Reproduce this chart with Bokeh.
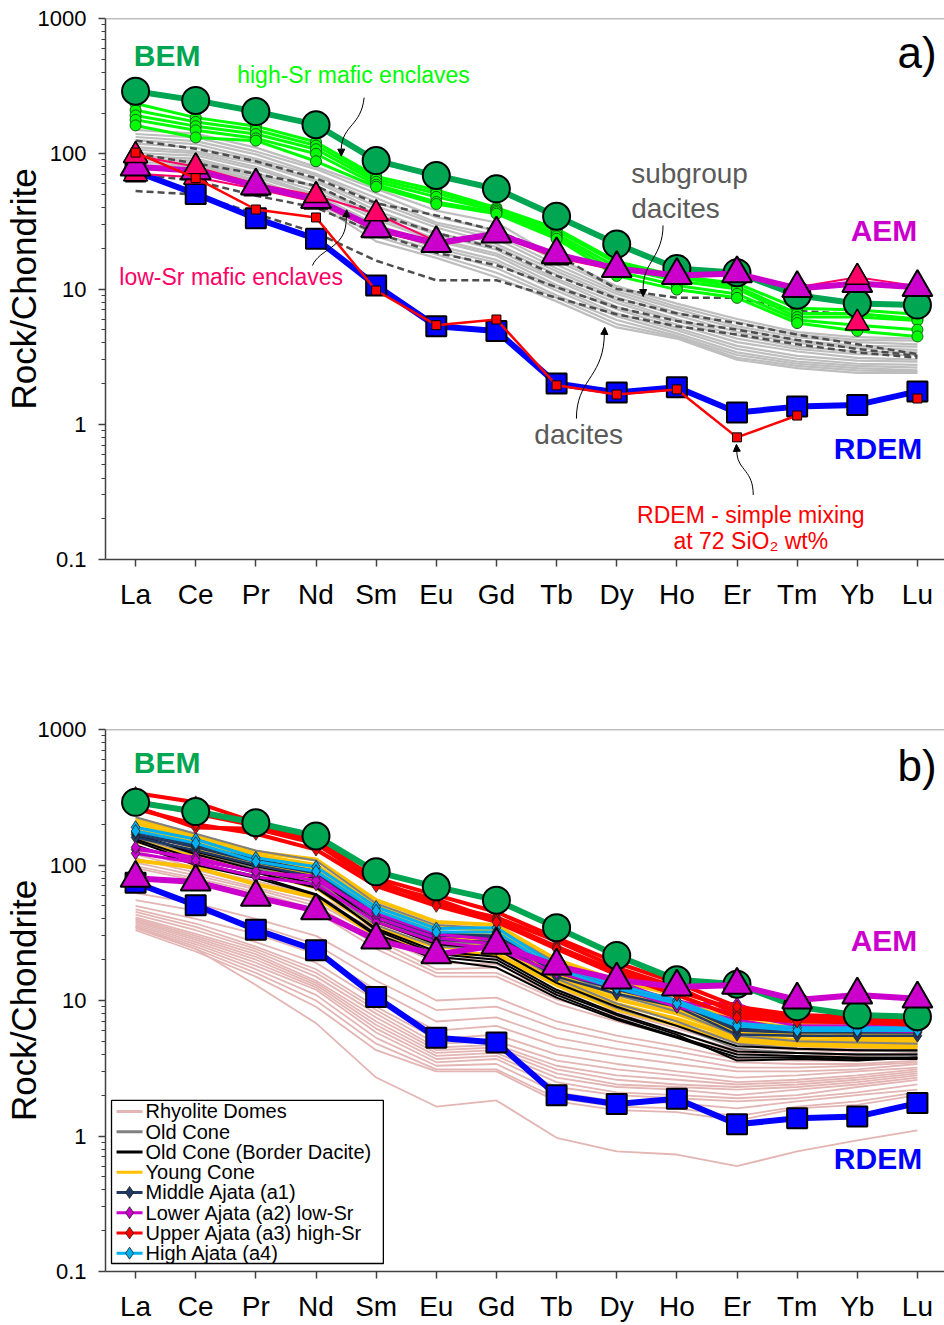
from bokeh.plotting import figure
from bokeh.layouts import column
from bokeh.models import Range1d, FixedTicker, CustomJSTickFormatter, Span, Arrow, NormalHead
from bokeh.core.properties import value
from bokeh.embed import file_html
from bokeh.resources import INLINE

FONT = "Liberation Sans"

# Rare earth elements, chondrite-normalised
ELEMENTS = ["La", "Ce", "Pr", "Nd", "Sm", "Eu", "Gd", "Tb", "Dy", "Ho", "Er", "Tm", "Yb", "Lu"]
X = list(range(len(ELEMENTS)))
Y_TICKS = [0.1, 1, 10, 100, 1000]
Y_MINOR = [k * 10.0 ** e for e in range(-1, 3) for k in range(2, 10)]

NAN = float("nan")

# End-members
BEM = [290, 248, 205, 164, 89, 69, 55, 34.5, 21.5, 14.2, 13.2, 9.0, 7.8, 7.6]
AEM = [80, 75, 58, 46, 28, 21.8, 25.6, 18, 14.2, 12.6, 13.0, 10.1, 11.0, 10.3]
RDEM = [74, 50.5, 33.3, 23.5, 10.6, 5.3, 4.9, 2.0, 1.72, 1.88, 1.22, 1.35, 1.39, 1.75]
RDEM_MIXING = [102, 66, 38.7, 33.8, 9.75, 5.4, 5.95, 1.94, 1.66, 1.81, 0.80, 1.16, NAN, 1.55]

# Mafic enclaves
HIGH_SR_1 = [235, 185, 160, 122, 68, 54, 40, 28, 16, 12.5, 11.0, 7.2, 7.0, 6.5]
HIGH_SR_2 = [210, 172, 150, 115, 65, 51, 39, 27, 15.5, 12.2, 10.4, 6.6, 6.6, 6.0]
HIGH_SR_3 = [192, 160, 140, 108, 62, 48, 38, 25.5, 14.5, 11.5, 10.0, 6.2, 6.2, 5.85]
HIGH_SR_4 = [178, 149, 130, 100, 59, 44, 37, 24.5, 13.5, 10.6, 9.2, 5.9, 5.4, 5.0]
HIGH_SR_5 = [162, 132, 125, 88, 57, 42.5, 36, 23.5, 12.5, 9.9, 8.6, 5.6, 4.9, 4.46]
LOW_SR_1 = [97, 80, 60, 49, 36, 22.5, 26, 18, 14.5, 12.8, 13.2, 10.3, 12.2, 10.5]
LOW_SR_2 = [71, 67, 55, 44, 27, 21, 25, 17, 13.8, 12.3, 12.8, 9.8, 5.6, 10.0]

# Dacites
DACITES = [
    [150, 141, 111, 80, 55, 38, 31, 17, 10.5, 7.8, 6.0, 4.8, 4.4, 4.3],
    [140, 132, 104, 77, 51, 34, 27, 16.2, 10.1, 7.4, 5.7, 4.6, 4.2, 4.15],
    [133, 124, 99, 71, 47, 31, 25, 15.1, 9.6, 7.1, 5.3, 4.4, 4.05, 3.9],
    [126, 118, 92, 69, 44, 30, 23.5, 14.2, 9.2, 6.7, 5.1, 4.15, 3.8, 3.75],
    [119, 111, 89, 64, 41, 28.5, 21.5, 13.5, 8.7, 6.4, 4.8, 4.0, 3.65, 3.55],
    [112, 104, 85, 62, 38, 26, 20.5, 12.8, 8.3, 6.0, 4.55, 3.75, 3.45, 3.4],
    [107, 101, 80, 57, 36, 25.2, 19.5, 11.9, 7.9, 5.8, 4.3, 3.6, 3.3, 3.25],
    [101, 97, 77, 56, 34, 23.5, 18.3, 11.5, 7.4, 5.45, 4.05, 3.45, 3.1, 3.0],
    [96, 92, 72, 53, 32.5, 22.7, 17.6, 10.7, 7.1, 5.15, 3.8, 3.2, 2.95, 2.9],
    [90, 89, 70, 50, 30, 21, 16.4, 10.2, 6.6, 4.95, 3.6, 3.05, 2.8, 2.75],
    [86, 86, 67, 49, 28.5, 20, 15.6, 9.7, 6.3, 4.7, 3.4, 2.9, 2.7, 2.62],
    [81, 84, 64, 46, 26, 19.2, 14.3, 9.0, 5.9, 4.5, 3.25, 2.8, 2.6, 2.5],
    [78, 83, 63, 44.5, 24.5, 18, 13.2, 8.6, 5.5, 4.4, 3.1, 2.7, 2.5, 2.45],
    [75, 82, 62, 43, 22.5, 17, 12.2, 8.1, 5.2, 4.3, 3.0, 2.6, 2.4, 2.4],
]
SUBGROUP_DACITES = [
    [125, 109, 88, 66, 43, 35, 27, 18, 10.0, 8.6, 8.6, 6.9, 6.5, 6.0],
    [100, 85, 71, 58, 36, 26, 20, 12.5, 8.5, 6.6, 5.6, 4.6, 3.9, 3.3],
    [71, 63, 49, 40, 26, 18.5, 15, 10.3, 7.3, 5.8, 5.0, 4.2, 3.6, 3.2],
    [53, 50, 36, 26, 16.2, 11.6, 11.6, 8.6, 6.5, 5.3, 4.6, 3.9, 3.4, 3.1],
]

# Volcanic units (panel b)
RHYOLITE_DOMES = [
    [128, 95, 76, 60, 36, 22, 22, 14, 10.5, 8.0, 5.7, 5.0, 4.8, 4.8],
    [120, 92, 72, 56, 33, 20, 20.5, 13, 9.5, 7.2, 5.2, 4.7, 4.6, 4.6],
    [112, 88, 68, 53, 30, 19, 18.5, 12, 9.0, 6.6, 4.9, 4.5, 4.4, 4.5],
    [104, 84, 66, 50, 28, 17, 17.5, 11, 8.3, 6.2, 4.6, 4.3, 4.2, 4.3],
    [98, 80, 63, 47, 26, 16, 16, 10.2, 7.6, 5.8, 4.3, 4.1, 4.0, 4.1],
    [95, 77, 61, 45, 24, 15, 15, 9.5, 7.0, 5.4, 4.1, 3.9, 3.9, 4.0],
    [62, 52, 40, 30, 17, 10, 10.5, 7.0, 5.5, 4.6, 3.7, 3.6, 3.6, 3.8],
    [55, 46, 36, 26, 14, 8.5, 9.0, 6.2, 5.0, 4.2, 3.5, 3.4, 3.4, 3.6],
    [50, 40, 31, 22, 12, 7.0, 7.5, 5.3, 4.4, 3.8, 3.2, 3.2, 3.3, 3.5],
    [47, 37, 27, 19, 10, 6.0, 6.5, 4.6, 3.9, 3.4, 3.0, 3.0, 3.1, 3.4],
    [45, 35, 25, 17, 9.0, 5.2, 5.6, 4.0, 3.4, 3.0, 2.7, 2.8, 3.0, 3.2],
    [43, 33, 24, 16, 8.5, 4.8, 5.0, 3.6, 3.1, 2.8, 2.5, 2.6, 2.8, 3.1],
    [41, 31, 23, 15, 8.0, 4.5, 4.7, 3.3, 2.8, 2.6, 2.4, 2.5, 2.7, 3.0],
    [40, 30, 22, 14, 7.5, 4.3, 4.5, 3.1, 2.6, 2.4, 2.3, 2.4, 2.6, 2.9],
    [39, 29, 21, 13.5, 7.0, 4.1, 4.3, 2.9, 2.4, 2.3, 2.2, 2.3, 2.5, 2.8],
    [38, 28, 20, 13, 6.6, 3.9, 4.1, 2.7, 2.3, 2.2, 2.0, 2.2, 2.4, 2.7],
    [37, 27, 19, 12.5, 6.2, 3.7, 3.9, 2.5, 2.1, 2.0, 1.9, 2.0, 2.3, 2.6],
    [36, 26, 18, 12, 5.8, 3.5, 3.7, 2.3, 2.0, 1.9, 1.8, 1.9, 2.1, 2.4],
    [35, 25, 17, 11, 5.3, 3.3, 3.4, 2.1, 1.8, 1.75, 1.6, 1.8, 2.0, 2.2],
    [34, 24, 16, 10, 4.8, 3.1, 3.1, 1.9, 1.65, 1.6, 1.4, 1.65, 1.8, 2.1],
    [33, 23, 15, 9.0, 4.3, 3.0, 3.0, 1.8, 1.55, 1.5, 1.3, 1.6, 1.7, 2.0],
    [35, 24, 13, 6.8, 2.7, 1.65, 1.83, 0.97, 0.77, 0.73, 0.6, 0.77, 0.93, 1.1],
]
YOUNG_CONE = [
    [220, 165, 125, 110, 55, 38, 36, 20, 14, 11, 7.5, 6.8, 6.5, 6.3],
    [205, 155, 118, 100, 50, 35, 33, 18.5, 13, 10, 7.0, 6.3, 6.1, 6.0],
    [190, 145, 112, 92, 46, 32, 30, 17, 12, 9.2, 6.5, 5.9, 5.7, 5.6],
    [175, 135, 105, 85, 42, 29, 28, 16, 11, 8.6, 6.0, 5.5, 5.3, 5.2],
    [160, 125, 98, 78, 38, 27, 26, 15, 10.2, 8.0, 5.6, 5.1, 5.0, 4.9],
    [150, 115, 90, 68, 34, 25, 24, 14, 9.4, 7.3, 5.3, 4.9, 4.8, 4.7],
    [108, 96, 72, 58, 30, 22, 22, 13, 8.6, 6.6, 5.0, 4.7, 4.6, 4.5],
]
OLD_CONE = [
    [225, 170, 128, 108, 52, 36, 34, 19, 13, 9.8, 6.5, 6.0, 5.8, 5.7],
    [180, 140, 108, 90, 45, 31, 30, 16.5, 11, 8.3, 5.5, 5.0, 4.9, 4.8],
    [160, 120, 95, 75, 38, 27, 26, 14.5, 9.5, 7.0, 4.8, 4.4, 4.3, 4.2],
    [150, 112, 88, 70, 36, 25, 24, 13.5, 8.8, 6.5, 4.4, 4.1, 4.0, 4.0],
]
BORDER_DACITE = [
    [165, 125, 98, 80, 38, 26, 24, 13.5, 9.0, 6.5, 4.6, 4.4, 4.3, 4.3],
    [155, 110, 88, 68, 34, 23, 21, 12, 8.0, 5.8, 4.2, 4.1, 4.0, 4.0],
    [150, 104, 83, 61, 31, 21, 19, 11, 7.4, 5.4, 4.0, 3.9, 3.8, 3.8],
    [140, 100, 80, 60, 30, 20, 17.5, 10.5, 7.2, 5.3, 3.8, 3.8, 3.7, 3.7],
    [170, 120, 92, 72, 33, 22, 20, 11.5, 7.8, 5.6, 3.6, 3.7, 3.6, 3.8],
]
MIDDLE_AJATA = [
    [168, 135, 105, 87, 42, 30, 29, 16, 12, 9.5, 6.0, 5.8, 5.8, 5.8],
    [160, 128, 100, 82, 40, 28, 27, 15, 11.2, 9.0, 5.6, 5.5, 5.5, 5.5],
    [175, 140, 110, 90, 44, 31, 30, 17, 12.5, 10, 6.2, 6.0, 6.0, 6.0],
]
LOWER_AJATA = [
    [130, 114, 88, 83, 41, 29, 26, 17.5, 14, 9.5, 9.5, 6.3, 6.3, 6.2],
    [122, 104, 82, 72, 38, 27, 24, 16, 12.5, 9.0, 7.2, 6.0, 6.0, 5.9],
    [135, 108, 90, 77, 44, 31, 28, 18, 13, 10, 8.0, 6.5, 6.5, 6.4],
]
UPPER_AJATA = [
    [340, 290, 206, 160, 77, 52, 41, 27.5, 17.5, 12.5, 8.0, 7.4, 7.1, 6.7],
    [270, 189, 185, 144, 73, 56, 39, 25, 16.5, 11.8, 8.5, 7.5, 7.3, 7.0],
    [300, 240, 195, 150, 80, 60, 45, 29, 19, 13.5, 9.0, 7.8, 7.6, 7.3],
    [260, 200, 170, 130, 70, 50, 38, 24, 15.5, 11, 7.5, 7.0, 6.9, 6.6],
]
HIGH_AJATA = [
    [190, 155, 113, 97, 49, 34, 34.5, 18, 13, 10, 6.8, 6.3, 6.3, 6.3],
    [178, 145, 106, 90, 46, 32, 32, 17, 12.3, 9.5, 6.5, 6.0, 6.0, 6.0],
]

# Colours
C_BEM = "#00A651"
C_AEM = "#CC00CC"
C_RDEM = "#0000FF"
C_MIX = "#FF0000"
C_LOWSR = "#FF0066"
C_HIGHSR = "#00FF00"
C_DACITE = "#BEBEBE"
C_SUBGROUP = "#4D4D4D"
C_LABEL_GRAY = "#5A5A5A"
C_RHYO = "#E3B5B3"
C_OLD = "#808080"
C_BORDER = "#000000"
C_YOUNG = "#FFC000"
C_A1 = "#1F3864"
C_A2 = "#CC00CC"
C_A3 = "#FF0000"
C_A4 = "#00B0F0"


def base_panel(height, border_top, border_bottom):
    p = figure(width=944, height=height,
               x_range=Range1d(-0.5, 13.45), y_range=Range1d(0.1, 1000),
               y_axis_type="log", output_backend="svg", toolbar_location=None,
               min_border_left=104, min_border_right=0,
               min_border_top=border_top, min_border_bottom=border_bottom)
    p.outline_line_color = None
    p.xgrid.visible = False
    p.ygrid.visible = False
    p.background_fill_color = "white"

    xa = p.xaxis[0]
    xa.ticker = FixedTicker(ticks=X)
    xa.major_label_overrides = {i: e for i, e in enumerate(ELEMENTS)}
    xa.minor_tick_line_color = None
    xa.major_tick_out = 7
    xa.major_tick_in = 0
    xa.axis_line_color = "#404040"
    xa.axis_line_width = 1.5
    xa.major_tick_line_color = "#404040"
    xa.major_tick_line_width = 1.5
    xa.major_label_text_font = FONT
    xa.major_label_text_font_size = "28px"
    xa.major_label_text_color = "black"
    xa.major_label_standoff = 12

    ya = p.yaxis[0]
    ya.ticker = FixedTicker(ticks=Y_TICKS, minor_ticks=Y_MINOR)
    ya.formatter = CustomJSTickFormatter(code="return tick < 1 ? tick.toFixed(1) : tick.toFixed(0);")
    ya.axis_line_color = "#404040"
    ya.axis_line_width = 1.5
    ya.major_tick_out = 7
    ya.major_tick_in = 0
    ya.minor_tick_out = 4
    ya.minor_tick_in = 0
    ya.major_tick_line_color = "#404040"
    ya.minor_tick_line_color = "#404040"
    ya.major_tick_line_width = 1.5
    ya.major_label_text_font = FONT
    ya.major_label_text_font_size = "22px"
    ya.major_label_text_color = "black"
    ya.major_label_standoff = 12
    ya.axis_label = "Rock/Chondrite"
    ya.axis_label_text_font = FONT
    ya.axis_label_text_font_size = "35px"
    ya.axis_label_text_font_style = "normal"
    ya.axis_label_text_color = "black"
    ya.axis_label_standoff = -8

    p.add_layout(Span(location=1000, dimension="width", line_color="#7F7F7F", line_width=1.5))
    return p


def label(p, x, y, text, color, size, bold=False, align="left"):
    p.text(x=[x], y=[y], text=[text], text_color=color, text_font=value(FONT),
           text_font_size=size, text_font_style="bold" if bold else "normal",
           text_align=align, text_baseline="middle")


def curved_arrow(p, start, c0, c1, end, tip):
    p.bezier(x0=[start[0]], y0=[start[1]], x1=[end[0]], y1=[end[1]],
             cx0=[c0[0]], cy0=[c0[1]], cx1=[c1[0]], cy1=[c1[1]],
             line_color="black", line_width=1)
    p.add_layout(Arrow(end=NormalHead(size=7, fill_color="black", line_color="black", line_width=1),
                       x_start=end[0], y_start=end[1], x_end=tip[0], y_end=tip[1],
                       line_color="black", line_width=1))


def draw_bem(p):
    p.line(X, BEM, line_color=C_BEM, line_width=6)
    p.scatter(X, BEM, marker="circle", size=27, fill_color=C_BEM, line_color="black", line_width=2)


def draw_rdem(p):
    p.line(X, RDEM, line_color=C_RDEM, line_width=6)
    p.scatter(X, RDEM, marker="square", size=20, fill_color=C_RDEM, line_color="black", line_width=2)


def draw_aem(p):
    p.line(X, AEM, line_color=C_AEM, line_width=6)
    p.scatter(X, AEM, marker="triangle", size=30, fill_color=C_AEM, line_color="black", line_width=2)


# ---------------- panel a ----------------
pa = base_panel(650, 18, 91)

for vals in DACITES:
    pa.line(X, vals, line_color=C_DACITE, line_width=2.2)
for vals in SUBGROUP_DACITES:
    pa.line(X, vals, line_color=C_SUBGROUP, line_width=2.5, line_dash="7 4")

high_sr = [HIGH_SR_1, HIGH_SR_2, HIGH_SR_3, HIGH_SR_4, HIGH_SR_5]
for vals in high_sr:
    pa.line(X, vals, line_color=C_HIGHSR, line_width=3)
for vals in high_sr:
    pa.scatter(X, vals, marker="circle", size=11, fill_color=C_HIGHSR, line_color="#1B5E20", line_width=1)

draw_bem(pa)
draw_rdem(pa)

# low-Sr enclaves; the Yb point of the second sample is plotted without its line
low_sr_2_line = [v if i != ELEMENTS.index("Yb") else NAN for i, v in enumerate(LOW_SR_2)]
pa.line(X, LOW_SR_1, line_color=C_LOWSR, line_width=2)
pa.line(X, low_sr_2_line, line_color=C_LOWSR, line_width=2)
for vals in (LOW_SR_1, LOW_SR_2):
    pa.scatter(X, vals, marker="triangle", size=24, fill_color=C_LOWSR, line_color="black", line_width=1.5)

draw_aem(pa)

# low-Sr samples that stand above the AEM average stay in front of it
for vals in (LOW_SR_1, LOW_SR_2):
    front = [(x, v) for x, v, a in zip(X, vals, AEM) if v > 1.05 * a]
    pa.scatter([f[0] for f in front], [f[1] for f in front], marker="triangle", size=24,
               fill_color=C_LOWSR, line_color="black", line_width=1.5)

pa.line(X, RDEM_MIXING, line_color=C_MIX, line_width=2.5)
pa.scatter(X, RDEM_MIXING, marker="square", size=9, fill_color=C_MIX, line_color="black", line_width=1)

label(pa, -0.03, 532, "BEM", C_BEM, "30px", bold=True)
label(pa, 1.69, 379, "high-Sr mafic enclaves", C_HIGHSR, "23px")
label(pa, -0.27, 12.2, "low-Sr mafic enclaves", C_LOWSR, "23px")
label(pa, 8.24, 71.5, "subgroup", C_LABEL_GRAY, "28px")
label(pa, 8.24, 39.4, "dacites", C_LABEL_GRAY, "28px")
label(pa, 11.89, 27.1, "AEM", C_AEM, "30px", bold=True)
label(pa, 11.61, 0.662, "RDEM", C_RDEM, "30px", bold=True)
label(pa, 6.63, 0.84, "dacites", C_LABEL_GRAY, "28px")
label(pa, 10.23, 0.215, "RDEM - simple mixing", C_MIX, "23px", align="center")
label(pa, 10.23, 0.138, "at 72 SiO\u2082 wt%", C_MIX, "23px", align="center")
label(pa, 12.67, 561, "a)", "black", "44px")

curved_arrow(pa, (3.80, 260), (3.75, 160), (3.45, 165), (3.42, 110), (3.42, 96))
curved_arrow(pa, (2.94, 14.9), (3.06, 19.9), (3.47, 19.9), (3.50, 31), (3.51, 38.5))
curved_arrow(pa, (8.77, 29.5), (8.77, 17.7), (8.45, 15.7), (8.44, 10.5), (8.44, 8.8))
curved_arrow(pa, (7.33, 1.10), (7.33, 2.11), (7.74, 2.18), (7.79, 4.2), (7.80, 5.2))
curved_arrow(pa, (10.27, 0.30), (10.27, 0.455), (10.03, 0.455), (10.0, 0.6), (9.99, 0.71))

# ---------------- panel b ----------------
pb = base_panel(675, 79, 54)

for vals in RHYOLITE_DOMES:
    pb.line(X, vals, line_color=C_RHYO, line_width=1.8)
for vals in YOUNG_CONE:
    pb.line(X, vals, line_color=C_YOUNG, line_width=4)
for vals in OLD_CONE:
    pb.line(X, vals, line_color=C_OLD, line_width=2)
for vals in BORDER_DACITE:
    pb.line(X, vals, line_color=C_BORDER, line_width=2)

ajata_groups = [(MIDDLE_AJATA, C_A1, 2.5), (LOWER_AJATA, C_A2, 3), (HIGH_AJATA, C_A4, 3), (UPPER_AJATA, C_A3, 4)]
for group, color, lw in ajata_groups:
    for vals in group:
        pb.line(X, vals, line_color=color, line_width=lw)
    for vals in group:
        pb.scatter(X, vals, marker="diamond", size=13, fill_color=color, line_color="#202020", line_width=0.8)

draw_bem(pb)
draw_rdem(pb)
draw_aem(pb)

label(pb, -0.03, 571, "BEM", C_BEM, "30px", bold=True)
label(pb, 11.89, 27.7, "AEM", C_AEM, "30px", bold=True)
label(pb, 11.61, 0.682, "RDEM", C_RDEM, "30px", bold=True)
label(pb, 12.67, 542, "b)", "black", "44px")

# legend box
LEGEND_LABELS = ["Rhyolite Domes", "Old Cone", "Old Cone (Border Dacite)", "Young Cone",
                 "Middle Ajata (a1)", "Lower Ajata (a2) low-Sr", "Upper Ajata (a3) high-Sr", "High Ajata (a4)"]
LEGEND_COLORS = [C_RHYO, C_OLD, C_BORDER, C_YOUNG, C_A1, C_A2, C_A3, C_A4]
LEGEND_MARKED = [False, False, False, False, True, True, True, True]

row_y = [10 ** (0.181 - 0.1494 * i) for i in range(len(LEGEND_LABELS))]
pb.quad(left=[-0.40], right=[4.12], bottom=[0.1146], top=[1.83],
        fill_color="white", line_color="black", line_width=1.3)
pb.segment(x0=[-0.316] * 8, x1=[0.116] * 8, y0=row_y, y1=row_y, line_color=LEGEND_COLORS, line_width=3)
mk_y = [y for y, m in zip(row_y, LEGEND_MARKED) if m]
mk_c = [c for c, m in zip(LEGEND_COLORS, LEGEND_MARKED) if m]
pb.scatter(x=[-0.10] * len(mk_y), y=mk_y, marker="diamond", size=12, fill_color=mk_c,
           line_color="#202020", line_width=0.8)
pb.text(x=[0.166] * 8, y=row_y, text=LEGEND_LABELS, text_color="black", text_font=value(FONT),
        text_font_size="20px", text_align="left", text_baseline="middle")

layout = column(pa, pb, spacing=0)
open("out.html", "w").write(file_html(layout, INLINE))
